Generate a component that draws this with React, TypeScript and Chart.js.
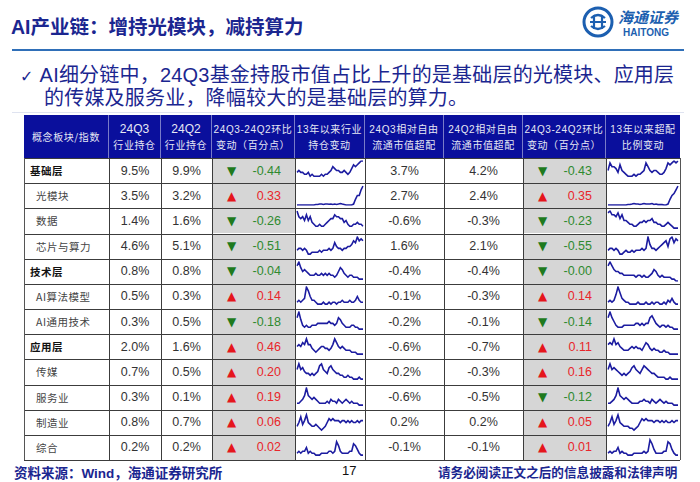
import React, { useEffect, useRef } from 'react';
import { Chart, registerables } from 'chart.js';
Chart.register(...registerables);

const categories = ['基础层', '光模块', '数据', '芯片与算力', '技术层', 'AI算法模型', 'AI通用技术', '应用层', '传媒', '服务业', '制造业', '综合'];
const isLevel = [true, false, false, false, true, false, false, true, false, false, false, false];
const hold24Q3 = [9.5, 3.5, 1.4, 4.6, 0.8, 0.5, 0.3, 2.0, 0.7, 0.3, 0.8, 0.2];
const hold24Q2 = [9.9, 3.2, 1.6, 5.1, 0.8, 0.3, 0.5, 1.6, 0.5, 0.1, 0.7, 0.2];
const holdChange = [-0.44, 0.33, -0.26, -0.51, -0.04, 0.14, -0.18, 0.46, 0.20, 0.19, 0.06, 0.02];
const over24Q3 = [3.7, 2.7, -0.6, 1.6, -0.4, -0.1, -0.2, -0.6, -0.2, -0.6, 0.2, -0.1];
const over24Q2 = [4.2, 2.4, -0.3, 2.1, -0.4, -0.3, -0.1, -0.7, -0.3, -0.5, 0.2, -0.1];
const overChange = [-0.43, 0.35, -0.23, -0.55, -0.004, 0.14, -0.14, 0.11, 0.16, -0.12, 0.05, 0.01];

const headerLabels = [
  ['概念板块/指数'],
  ['24Q3', '行业持仓'],
  ['24Q2', '行业持仓'],
  ['24Q3-24Q2环比', '变动（百分点）'],
  ['13年以来行业', '持仓变动'],
  ['24Q3相对自由', '流通市值超配'],
  ['24Q2相对自由', '流通市值超配'],
  ['24Q3-24Q2环比', '变动（百分点）'],
  ['13年以来超配', '比例变动'],
];

// industry holding trend since 2013 (quarterly, estimated from the sparklines)
const holdTrendBase = [4, 5, 4, 4, 3, 3, 4, 2, 3, 2, 2, 2, 2, 3, 2, 3, 3, 4, 5, 7, 6, 5, 5, 4, 4, 5, 4, 3, 4, 6, 8, 7, 8, 9, 10, 10];
const holdTrendOptical = [0, 0, 0, 0, 0, 0, 0, 0, 0, 0, 0.3, 0.3, 0.5, 0.5, 0.3, 0.5, 0.5, 0.4, 0.5, 0.3, 0.5, 0.3, 0.5, 0.8, 0.5, 0.3, 0, 0, 0, 0, 0.5, 3, 5, 5, 8, 10];
const holdTrendData = [10, 7, 6, 7, 5, 8, 5, 7, 4, 3, 2, 2, 3, 2, 2, 3, 4, 5, 6, 6, 8, 7, 7, 6, 6, 4, 5, 3, 2, 2, 3, 3, 4, 3, 3, 2];
const holdTrendChip = [3, 4, 4, 3, 4, 3, 1, 1, 2, 2, 2, 2, 3, 2, 3, 3, 3, 4, 3, 4, 7, 5, 4, 4, 3, 4, 4, 5, 5, 6, 8, 7, 10, 8, 9, 8];
const holdTrendTech = [8, 10, 7, 5, 6, 5, 4, 3, 3, 3, 4, 3, 3, 4, 3, 4, 3, 4, 3, 3, 2, 3, 5, 7, 6, 4, 3, 2, 3, 3, 2, 2, 2, 1, 1, 1];
const holdTrendAlgo = [2, 3, 2, 3, 4, 10, 8, 5, 3, 3, 2, 1, 1, 1, 2, 1, 1, 2, 1, 2, 2, 1, 2, 2, 3, 2, 2, 2, 3, 2, 2, 3, 5, 3, 2, 2];
const holdTrendGeneral = [7, 10, 6, 3, 2, 3, 2, 2, 3, 3, 3, 4, 4, 4, 4, 4, 4, 5, 4, 4, 3, 4, 7, 6, 4, 3, 2, 2, 2, 3, 3, 2, 2, 1, 1, 1];
const holdTrendApp = [5, 6, 5, 7, 6, 9, 6, 6, 4, 3, 2, 3, 4, 5, 5, 4, 4, 3, 4, 6, 9, 7, 5, 4, 5, 4, 3, 3, 3, 2, 2, 2, 1, 1, 1, 1];
const holdTrendMedia = [6, 9, 6, 7, 5, 4, 4, 3, 4, 3, 4, 5, 8, 9, 6, 5, 4, 7, 8, 6, 5, 4, 4, 3, 3, 2, 2, 3, 2, 2, 1, 1, 1, 2, 1, 1];
const holdTrendService = [2, 2, 3, 4, 6, 10, 6, 5, 4, 5, 4, 3, 2, 2, 2, 2, 3, 2, 4, 3, 3, 2, 4, 3, 2, 3, 4, 3, 2, 3, 2, 2, 2, 1, 1, 1];
const holdTrendManu = [3, 5, 8, 4, 6, 9, 5, 4, 3, 3, 4, 3, 2, 1, 2, 3, 5, 7, 6, 7, 6, 6, 6, 5, 6, 6, 5, 6, 5, 6, 5, 5, 6, 5, 6, 6];
const holdTrendMisc = [2, 3, 2, 3, 3, 5, 2, 3, 2, 2, 1, 1, 1, 2, 2, 2, 2, 3, 3, 2, 3, 8, 6, 3, 2, 2, 2, 2, 3, 3, 7, 6, 4, 2, 1, 1];

// overweight ratio trend since 2013
const overTrendBase = [5, 9, 7, 7, 6, 4, 8, 5, 4, 3, 2, 2, 2, 3, 2, 3, 3, 4, 5, 9, 7, 5, 4, 5, 5, 4, 3, 3, 4, 6, 9, 8, 9, 10, 9, 10];
const overTrendOptical = [0, 0, 0, 0, 0, 0, 0, 0, 0, 0, 0.3, 0.3, 0.5, 0.8, 0.5, 0.5, 0.3, 0.5, 0.8, 0.5, 0.5, 0.5, 0.8, 0.3, 0.5, 0.2, 0.2, 0.2, 0, 0, 0.5, 3, 5, 6, 8, 10];
const overTrendData = [9, 10, 8, 8, 7, 9, 6, 8, 5, 5, 4, 3, 3, 2, 2, 3, 4, 4, 5, 4, 5, 5, 6, 4, 4, 3, 3, 2, 2, 3, 4, 3, 2, 1, 1, 1];
const overTrendChip = [3, 4, 4, 3, 4, 3, 1, 1, 2, 3, 2, 2, 3, 2, 3, 3, 3, 4, 3, 4, 10, 6, 4, 4, 3, 4, 5, 6, 7, 8, 5, 9, 10, 7, 9, 8];
const overTrendTech = [8, 10, 8, 6, 5, 5, 4, 4, 3, 3, 3, 3, 3, 3, 2, 3, 3, 2, 3, 2, 2, 3, 4, 6, 5, 3, 2, 3, 2, 2, 2, 2, 1, 1, 0, 0];
const overTrendAlgo = [2, 3, 2, 3, 6, 10, 7, 4, 3, 2, 2, 1, 1, 1, 1, 2, 1, 1, 1, 2, 1, 1, 2, 1, 2, 2, 1, 1, 2, 1, 3, 2, 4, 2, 1, 1];
const overTrendGeneral = [7, 10, 7, 5, 3, 2, 2, 2, 3, 3, 3, 3, 3, 3, 4, 4, 3, 4, 3, 4, 4, 7, 8, 6, 4, 3, 2, 3, 3, 2, 3, 2, 2, 1, 1, 1];
const overTrendApp = [6, 7, 6, 9, 6, 7, 5, 4, 3, 3, 3, 4, 5, 4, 5, 4, 4, 3, 5, 7, 6, 4, 3, 4, 3, 3, 2, 2, 3, 2, 2, 1, 1, 1, 1, 1];
const overTrendMedia = [6, 9, 6, 7, 6, 5, 4, 3, 4, 3, 4, 5, 7, 8, 6, 5, 4, 6, 8, 7, 6, 5, 4, 4, 3, 2, 2, 2, 2, 1, 1, 2, 1, 1, 1, 1];
const overTrendService = [2, 2, 3, 4, 6, 10, 6, 5, 4, 5, 4, 3, 2, 2, 2, 2, 3, 3, 4, 3, 3, 2, 4, 3, 2, 3, 4, 3, 2, 3, 2, 2, 2, 1, 1, 1];
const overTrendManu = [3, 5, 8, 4, 6, 9, 5, 4, 3, 3, 3, 2, 2, 1, 2, 3, 5, 7, 6, 7, 6, 6, 6, 5, 6, 6, 5, 6, 5, 6, 5, 5, 6, 5, 6, 6];
const overTrendMisc = [2, 3, 2, 3, 3, 5, 2, 3, 2, 2, 1, 1, 1, 2, 2, 2, 2, 2, 3, 2, 3, 9, 7, 4, 2, 2, 2, 2, 3, 3, 8, 7, 4, 2, 1, 1];

const holdTrends = [holdTrendBase, holdTrendOptical, holdTrendData, holdTrendChip, holdTrendTech, holdTrendAlgo, holdTrendGeneral, holdTrendApp, holdTrendMedia, holdTrendService, holdTrendManu, holdTrendMisc];
const overTrends = [overTrendBase, overTrendOptical, overTrendData, overTrendChip, overTrendTech, overTrendAlgo, overTrendGeneral, overTrendApp, overTrendMedia, overTrendService, overTrendManu, overTrendMisc];

// layout
const COL_X = [24, 109, 161, 212, 295, 365, 444, 523, 606, 680];
const TABLE_TOP = 115;
const HEADER_H = 43;
const ROW_H = 25.17;
const NAVY = '#1b2690';
const HEADER_BG = '#0a0f9c';
const LINE = '#3c3c3c';
const GRAY_BG = '#d6d6d6';
const RED = '#e8262b';
const GREEN = '#2f8a2f';
const CJK = '"Noto Sans CJK SC", sans-serif';
const ARIAL = '"Liberation Sans", Arial, sans-serif';
const ARIAL_CJK = '"Liberation Sans", "Noto Sans CJK SC", sans-serif';

function Spark({ values, left, top, w, h }: { values: number[]; left: number; top: number; w: number; h: number }) {
  const ref = useRef<HTMLCanvasElement | null>(null);
  useEffect(() => {
    if (!ref.current) return;
    const chart = new Chart(ref.current, {
      type: 'line',
      data: {
        labels: values.map((_, i) => String(i)),
        datasets: [{ data: values, borderColor: '#1c1ca0', borderWidth: 1.6, pointRadius: 0, tension: 0, fill: false }],
      },
      options: {
        animation: false,
        responsive: false,
        maintainAspectRatio: false,
        events: [],
        plugins: { legend: { display: false }, tooltip: { enabled: false } },
        scales: { x: { display: false }, y: { display: false } },
        layout: { padding: { top: 2, bottom: 2, left: 1, right: 1 } },
      },
    });
    return () => chart.destroy();
  }, [values]);
  return <canvas ref={ref} width={w} height={h} style={{ position: 'absolute', left, top, width: w, height: h }} />;
}

function ChangeCell({ v, left, top, w, h }: { v: number; left: number; top: number; w: number; h: number }) {
  const up = v > 0;
  const color = up ? RED : GREEN;
  return (
    <div style={{ position: 'absolute', left, top, width: w, height: h, background: GRAY_BG }}>
      <span style={{ position: 'absolute', left: 15, top: 0, height: h, display: 'flex', alignItems: 'center', color: up ? '#e5161c' : '#1e7a1e', fontSize: 12, fontFamily: '"DejaVu Sans", sans-serif' }}>
        {up ? '▲' : '▼'}
      </span>
      <span style={{ position: 'absolute', right: 14, top: 0, height: h, display: 'flex', alignItems: 'center', color, fontSize: 12.5, fontFamily: ARIAL }}>
        {v.toFixed(2)}
      </span>
    </div>
  );
}

function Table() {
  const cells: React.ReactNode[] = [];
  headerLabels.forEach((lines, c) => {
    const left = COL_X[c];
    const w = COL_X[c + 1] - COL_X[c];
    cells.push(
      <div key={'h' + c} style={{ position: 'absolute', left, top: TABLE_TOP, width: w, height: HEADER_H, background: HEADER_BG, color: '#e6e8f4', fontFamily: CJK, fontSize: 10, lineHeight: '15px', display: 'flex', flexDirection: 'column', alignItems: 'center', justifyContent: 'center', textAlign: 'center', whiteSpace: 'nowrap', boxSizing: 'border-box', borderRight: c < 8 ? '1px solid rgba(255,255,255,0.45)' : 'none' }}>
        {lines.map((t, i) => (
          <div key={i} style={{ fontFamily: /^[0-9A-Z]/.test(t) ? ARIAL_CJK : CJK, fontSize: /^24Q[23]$/.test(t) ? 12 : 10, letterSpacing: /^24Q[23]$/.test(t) ? 0 : 0.6 }}>{t}</div>
        ))}
      </div>
    );
  });
  categories.forEach((name, r) => {
    const top = TABLE_TOP + HEADER_H + r * ROW_H;
    const h = ROW_H;
    const cw = (c: number) => COL_X[c + 1] - COL_X[c];
    const num = (c: number, text: string) => (
      <div key={r + '-' + c} style={{ position: 'absolute', left: COL_X[c], top, width: cw(c), height: h, display: 'flex', alignItems: 'center', justifyContent: 'center', fontFamily: ARIAL, fontSize: 12.5, color: '#333' }}>{text}</div>
    );
    cells.push(
      <div key={r + '-0'} style={{ position: 'absolute', left: COL_X[0], top, width: cw(0), height: h, display: 'flex', alignItems: 'center', paddingLeft: isLevel[r] ? 6 : 12, boxSizing: 'border-box', fontFamily: CJK, fontSize: 10.5, fontWeight: isLevel[r] ? 700 : 400, color: isLevel[r] ? '#111' : '#444', whiteSpace: 'nowrap', letterSpacing: 0.5 }}>{name}</div>
    );
    cells.push(num(1, hold24Q3[r].toFixed(1) + '%'));
    cells.push(num(2, hold24Q2[r].toFixed(1) + '%'));
    cells.push(<ChangeCell key={r + '-3'} v={holdChange[r]} left={COL_X[3]} top={top} w={cw(3)} h={h} />);
    cells.push(<Spark key={r + '-4'} values={holdTrends[r]} left={COL_X[4] + 1} top={Math.round(top) + 1} w={cw(4) - 2} h={Math.round(h) - 2} />);
    cells.push(num(5, over24Q3[r].toFixed(1) + '%'));
    cells.push(num(6, over24Q2[r].toFixed(1) + '%'));
    cells.push(<ChangeCell key={r + '-7'} v={overChange[r]} left={COL_X[7]} top={top} w={cw(7)} h={h} />);
    cells.push(<Spark key={r + '-8'} values={overTrends[r]} left={COL_X[8] + 1} top={Math.round(top) + 1} w={cw(8) - 2} h={Math.round(h) - 2} />);
  });
  const bodyTop = TABLE_TOP + HEADER_H;
  const bottom = bodyTop + categories.length * ROW_H;
  const lines: React.ReactNode[] = [];
  for (let r = 0; r <= categories.length; r++) {
    const y = Math.round(bodyTop + r * ROW_H);
    lines.push(<div key={'hl' + r} style={{ position: 'absolute', left: COL_X[0], top: y - 0.5, width: COL_X[9] - COL_X[0], height: 1, background: LINE }} />);
  }
  COL_X.forEach((x, i) => {
    lines.push(<div key={'vl' + i} style={{ position: 'absolute', left: x - 0.5, top: bodyTop, width: 1, height: bottom - bodyTop, background: i === 0 || i === 9 ? '#555' : LINE }} />);
  });
  return <>{cells}{lines}</>;
}

function Logo() {
  return (
    <div style={{ position: 'absolute', left: 582, top: 6 }}>
      <svg width={32} height={32} viewBox="0 0 32 32" style={{ position: 'absolute', left: 0, top: 0 }}>
        <circle cx={16} cy={16} r={14} fill="none" stroke="#1c5fb0" strokeWidth={3} />
        <path d="M9 12 Q16 6 23 12 M9 20 Q16 26 23 20 M12 9 L12 23 M20 9 L20 23 M8 16 L24 16" fill="none" stroke="#1c5fb0" strokeWidth={2.2} />
      </svg>
      <div style={{ position: 'absolute', left: 36, top: 3, fontFamily: CJK, fontSize: 15, lineHeight: '16px', fontWeight: 700, fontStyle: 'italic', color: '#1c5fb0', whiteSpace: 'nowrap' }}>海通证券</div>
      <div style={{ position: 'absolute', left: 41, top: 22, fontFamily: ARIAL, fontSize: 10, lineHeight: '10px', fontWeight: 700, color: '#1c5fb0', whiteSpace: 'nowrap' }}>HAITONG</div>
    </div>
  );
}

export default function App() {
  useEffect(() => {
    document.body.style.margin = '0';
  }, []);
  const bulletStyle: React.CSSProperties = { position: 'absolute', fontSize: 20, letterSpacing: 0.2, color: NAVY, fontFamily: ARIAL_CJK, whiteSpace: 'nowrap', lineHeight: '22px' };
  return (
    <div style={{ position: 'absolute', left: 0, top: 0, width: 700, height: 482, background: '#fff', overflow: 'hidden' }}>
      <div style={{ position: 'absolute', left: 11, top: 11, fontSize: 19.5, fontWeight: 700, color: NAVY, whiteSpace: 'nowrap', fontFamily: ARIAL_CJK }}>
        AI产业链：增持光模块，减持算力
      </div>
      <Logo />
      <div style={{ position: 'absolute', left: 12, top: 49, width: 672, height: 2, background: '#2f6fb8' }} />
      <div style={{ ...bulletStyle, left: 20, top: 64 }}>
        <span style={{ fontFamily: '"DejaVu Sans"', fontSize: 16 }}>✓</span>
        <span style={{ marginLeft: 6 }}>AI细分链中，24Q3基金持股市值占比上升的是基础层的光模块、应用层</span>
      </div>
      <div style={{ ...bulletStyle, left: 44, top: 87 }}>的传媒及服务业，降幅较大的是基础层的算力。</div>
      <div style={{ position: 'absolute', left: 12, top: 112, width: 672, height: 1, background: '#dfe3f0' }} />
      <Table />
      <div style={{ position: 'absolute', left: 14, top: 462, fontSize: 13.5, fontWeight: 700, color: NAVY, fontFamily: ARIAL_CJK, whiteSpace: 'nowrap' }}>
        资料来源：Wind，海通证券研究所
      </div>
      <div style={{ position: 'absolute', left: 342, top: 463, fontSize: 13, color: '#111', fontFamily: ARIAL }}>17</div>
      <div style={{ position: 'absolute', left: 438, top: 462, fontSize: 12.6, fontWeight: 700, color: NAVY, fontFamily: CJK, whiteSpace: 'nowrap' }}>
        请务必阅读正文之后的信息披露和法律声明
      </div>
    </div>
  );
}
